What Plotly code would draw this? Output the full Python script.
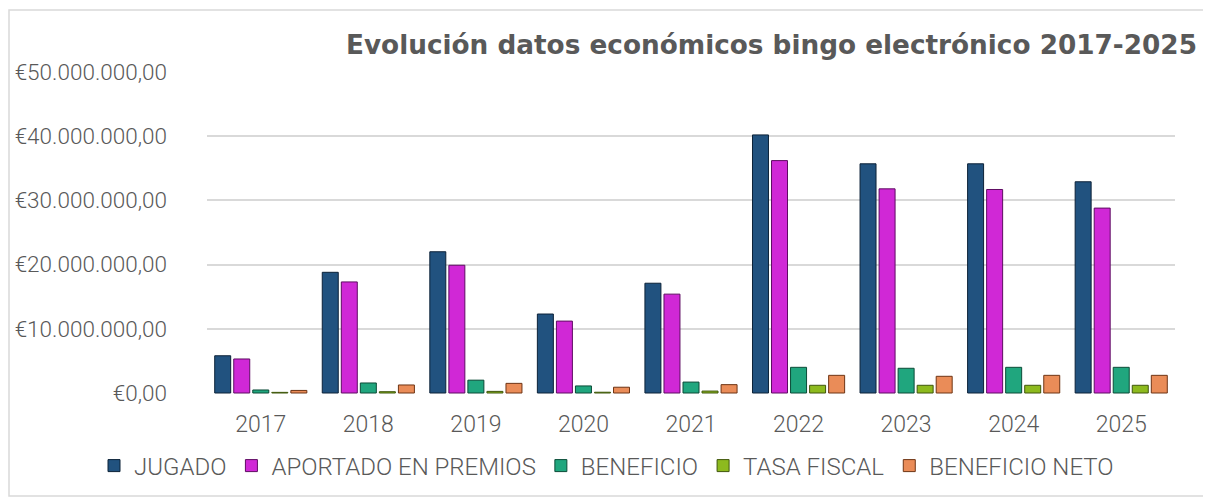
import plotly.graph_objects as go

years = ["2017", "2018", "2019", "2020", "2021", "2022", "2023", "2024", "2025"]
jugado = [5.8e6, 18.8e6, 22.0e6, 12.3e6, 17.1e6, 40.2e6, 35.7e6, 35.7e6, 32.9e6]
aportado = [5.3e6, 17.3e6, 19.9e6, 11.2e6, 15.4e6, 36.2e6, 31.8e6, 31.7e6, 28.8e6]
beneficio = [0.47e6, 1.56e6, 2.0e6, 1.1e6, 1.7e6, 4.0e6, 3.85e6, 4.0e6, 4.0e6]
tasa = [0.1e6, 0.2e6, 0.25e6, 0.12e6, 0.3e6, 1.2e6, 1.2e6, 1.2e6, 1.2e6]
neto = [0.4e6, 1.25e6, 1.5e6, 0.9e6, 1.3e6, 2.75e6, 2.6e6, 2.75e6, 2.75e6]

series_names = ["JUGADO", "APORTADO EN PREMIOS", "BENEFICIO", "TASA FISCAL", "BENEFICIO NETO"]
series_values = [jugado, aportado, beneficio, tasa, neto]
colors = ["#21527F", "#D028D6", "#20A67E", "#8DBA1E", "#EA8C58"]
edges = ["#0C2238", "#5E0C62", "#0B4B37", "#3F560C", "#6E3414"]

tick_vals = [0, 10e6, 20e6, 30e6, 40e6, 50e6]
tick_text = ["€0,00", "€10.000.000,00", "€20.000.000,00", "€30.000.000,00", "€40.000.000,00", "€50.000.000,00"]

fig = go.Figure()
for name, vals, c, e in zip(series_names, series_values, colors, edges):
    fig.add_trace(go.Bar(x=years, y=vals, name=name,
                         marker=dict(color=c, line=dict(color=e, width=1))))

OFF = 8  # page body margin
W, H = 1211 - OFF, 497 - OFF
L, R, T, B = 207 - OFF, 36, 63, H - (386)
pw, ph = W - L - R, H - T - B

def px_x(px):
    return (px - OFF - L) / pw

def px_y(py):
    return (H - B - (py - OFF)) / ph

fig.update_layout(
    width=W, height=H,
    margin=dict(l=L, r=R, t=T, b=B, pad=0, autoexpand=False),
    paper_bgcolor="white", plot_bgcolor="white",
    barmode="group", bargap=0.115, bargroupgap=0.16,
    font=dict(family="Roboto", color="#595959", size=22, weight=300),
    showlegend=True,
    legend=dict(orientation="h", x=px_x(94), xanchor="left", y=px_y(466), yanchor="middle",
                font=dict(size=24, color="#595959", family="Roboto", weight=300),
                itemwidth=30, traceorder="normal"),
    xaxis=dict(showgrid=False, showline=False, ticks="", ticklabelstandoff=14,
               tickfont=dict(size=23, color="#595959", family="Roboto", weight=300)),
    yaxis=dict(range=[-0.156e6, 50.156e6], tickvals=tick_vals, ticktext=tick_text, showgrid=True,
               gridcolor="#D9D9D9", gridwidth=2, zeroline=False,
               tickfont=dict(size=22.5, color="#595959", family="Roboto", weight=300),
               ticks="", ticklabelstandoff=39),
    annotations=[dict(text="Evolución datos económicos bingo electrónico 2017-2025",
                      xref="paper", yref="paper", x=px_x(1199), y=px_y(45),
                      xanchor="right", yanchor="middle", showarrow=False,
                      font=dict(size=26.3, color="#595959", family="DejaVu Sans", weight="bold"))],
    shapes=[dict(type="rect", xref="paper", yref="paper", x0=px_x(9), x1=px_x(1207),
                 y0=px_y(496), y1=px_y(10),
                 line=dict(color="#D9D9D9", width=1.5), fillcolor="rgba(0,0,0,0)", layer="below")],
)
fig.write_html("out.html")
